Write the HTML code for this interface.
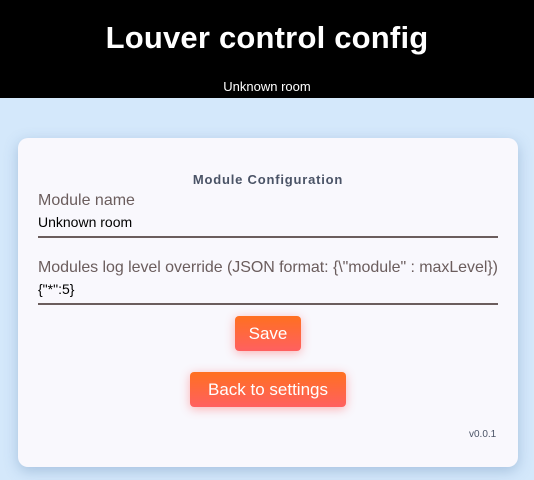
<!DOCTYPE html>
<html><head><meta charset="utf-8"><style>
*{margin:0;padding:0;box-sizing:border-box}
body{width:534px;height:480px;overflow:hidden;background:#d4e8fb;font-family:"Liberation Sans",sans-serif;position:relative}
.hdr{position:absolute;left:0;top:0;width:534px;height:98px;background:#000;color:#fff;text-align:center}
.t{position:absolute;left:0;width:100%;top:19px;font-size:31px;font-weight:bold;line-height:38px;letter-spacing:.2px}
.s{position:absolute;left:0;width:100%;top:79px;font-size:13px;line-height:16px}
.card{position:absolute;left:18px;top:138px;width:500px;height:329px;background:#f9f8fd;border-radius:10px;box-shadow:0 4px 14px rgba(80,120,170,.35)}
.a{position:absolute;white-space:nowrap}
.lbl{color:#6b5d5d;font-size:16px;left:20px}
.val{color:#000;font-size:14px;left:20px}
.line{position:absolute;left:20px;width:460px;height:2px;background:#6b5d5d}
.btn{position:absolute;color:#fff;font-size:17px;text-align:center;border-radius:4px;background:linear-gradient(#ff7020,#ff6060);box-shadow:0 2px 10px rgba(255,90,90,.45);line-height:35px;height:35px}
</style></head><body>
<div class="hdr"><div class="t">Louver control config</div><div class="s">Unknown room</div></div>
<div class="card">
<div class="a" style="left:0;width:500px;text-align:center;top:34px;font-size:13px;font-weight:bold;color:#4a5366;letter-spacing:.8px">Module Configuration</div>
<div class="a lbl" style="top:54px">Module name</div>
<div class="a val" style="top:76px">Unknown room</div>
<div class="line" style="top:98px"></div>
<div class="a lbl" style="top:121px;letter-spacing:-.05px">Modules log level override (JSON format: {\"module" : maxLevel})</div>
<div class="a val" style="top:143px">{"*":5}</div>
<div class="line" style="top:165px"></div>
<div class="btn" style="left:217px;top:178px;width:66px">Save</div>
<div class="btn" style="left:172px;top:234px;width:156px">Back to settings</div>
<div class="a" style="left:451px;top:291px;font-size:10px;color:#4a5366">v0.0.1</div>
</div>
</body></html>
